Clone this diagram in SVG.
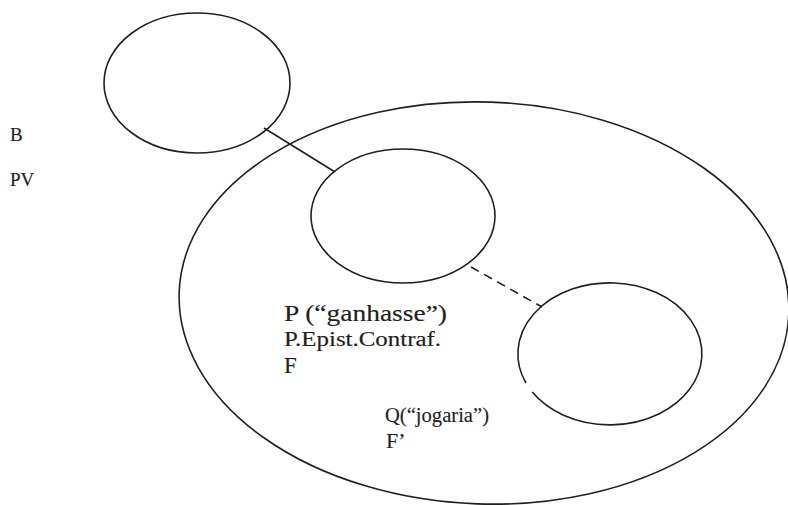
<svg xmlns="http://www.w3.org/2000/svg" width="788" height="505" viewBox="0 0 788 505">
<style>
.s{fill:none;stroke:#231f20;stroke-width:1.6}
.t{font-family:"Liberation Serif","Times New Roman",serif;fill:#231f20;stroke:#231f20;stroke-width:0.15}
</style>
<rect width="788" height="505" fill="#fff"/>
<g id="big"><ellipse class="s" cx="484" cy="303" rx="305" ry="201" transform="rotate(2 484 303)"/></g>
<g id="top"><ellipse class="s" cx="197" cy="83" rx="93" ry="70"/></g>
<g id="mid"><ellipse class="s" cx="403" cy="216" rx="92" ry="67"/></g>
<g id="low"><path class="s" d="M 532.3 392 A 92 71 0 1 0 526 383"/></g>
<g id="connectors">
<line class="s" x1="264" y1="128" x2="335" y2="172"/>
<line class="s" x1="471" y1="267" x2="542" y2="307" stroke-width="2.8" stroke-dasharray="9,6"/>
</g>
<g id="labels">
<text class="t" x="10" y="141" font-size="19">B</text>
<text class="t" x="10" y="186" font-size="19">PV</text>
<text class="t" x="284" y="321" font-size="23" textLength="163" lengthAdjust="spacingAndGlyphs">P (“ganhasse”)</text>
<text class="t" x="284" y="346" font-size="20" textLength="157" lengthAdjust="spacingAndGlyphs">P.Epist.Contraf.</text>
<text class="t" x="284" y="373" font-size="23">F</text>
<text class="t" x="385" y="422" font-size="22" textLength="104" lengthAdjust="spacingAndGlyphs">Q(“jogaria”)</text>
<text class="t" x="386" y="448" font-size="22">F’</text>
</g>
</svg>
